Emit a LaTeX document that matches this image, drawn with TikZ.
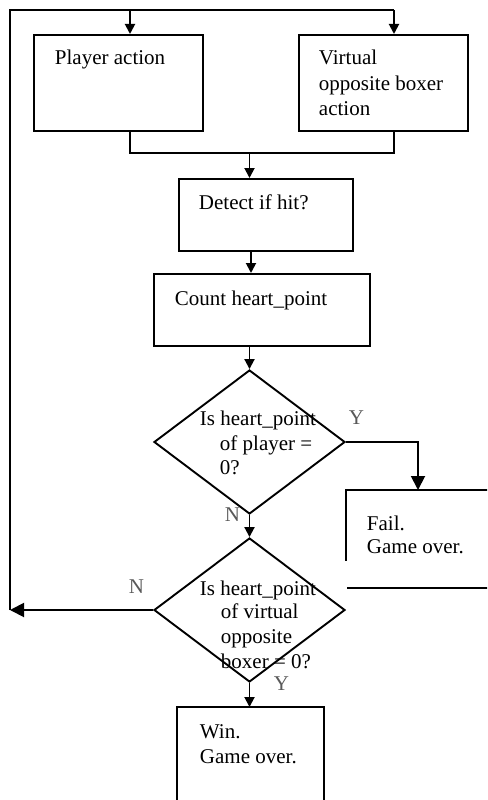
\documentclass[tikz,border=0pt]{standalone}
\usepackage{fontspec}
\setmainfont{Liberation Serif}
\usetikzlibrary{shapes.geometric,arrows.meta}

\begin{document}
\begin{tikzpicture}[x=1pt,y=-1pt,line width=1.9pt,
  box/.style={draw,rectangle,inner sep=0pt,anchor=north west},
  frame/.style={rectangle,inner sep=0pt,anchor=north west},
  decide/.style={draw,diamond,inner sep=0pt,minimum width=191pt,minimum height=144pt},
  txt/.style={inner sep=0pt,anchor=base west,font=\fontsize{21}{24.5}\selectfont},
  lab/.style={txt,text=black!65},
  arr/.style={-{Triangle[width=10pt,length=10pt]}},
  bigarr/.style={-{Triangle[width=14pt,length=14pt]}},
]
\clip (0,0) rectangle (487,800);

% process boxes
\node[box,minimum width=169pt,minimum height=96pt] (pa) at (33,34) {};
\node[box,minimum width=169pt,minimum height=96pt] (va) at (298,34) {};
\node[box,minimum width=174pt,minimum height=72pt] (det) at (178,178) {};
\node[box,minimum width=216pt,minimum height=72pt] (cnt) at (153,273) {};
\node[frame,minimum width=160pt,minimum height=96pt] (fail) at (346,490) {};
\node[frame,minimum width=145pt,minimum height=130pt] (win) at (177,707) {};

% decisions
\node[decide] (d1) at (249.5,442) {};
\node[decide] (d2) at (249.5,610) {};

% open-sided result boxes
\draw (fail.north east) -- (fail.north west) -- ([yshift=-71pt]fail.north west);
\draw ([xshift=1pt]fail.south west) -- (fail.south east);
\draw (win.south west) -- (win.north west) -- (win.north east) -- (win.south east);

% texts
\node[txt] (t1) at (54,65) {Player action};
\node[txt] (t2a) at (318,65) {Virtual};
\node[txt] (t2b) at (318,90) {opposite boxer};
\node[txt] (t2c) at (318,115) {action};
\node[txt] (t3) at (198,209) {Detect if hit?};
\node[txt] (t4) at (174,305) {Count heart\_point};
\node[txt] (t5a) at (199,425) {Is heart\_point};
\node[txt] (t5b) at (219,450) {of player =};
\node[txt] (t5c) at (219,474) {0?};
\node[txt] (t6a) at (366,530) {Fail.};
\node[txt] (t6b) at (366,553) {Game over.};
\node[txt] (t7a) at (199,595) {Is heart\_point};
\node[txt] (t7b) at (220,618) {of virtual};
\node[txt] (t7c) at (220,643) {opposite};
\node[txt] (t7d) at (220,668) {boxer = 0?};
\node[txt] (t8a) at (199,738) {Win.};
\node[txt] (t8b) at (199,763) {Game over.};

% branch labels
\node[lab] (y1) at (348,424) {Y};
\node[lab] (n1) at (224,521) {N};
\node[lab] (n2) at (128,593) {N};
\node[lab] (y2) at (273,690) {Y};

% loop back to the two actions
\coordinate (lb) at (10,610);
\coordinate (tl) at (10,10);
\coordinate (tr) at (394,10);
\coordinate (tp) at (130,10);
\draw[bigarr] (d2.west) -- (lb);
\draw (lb) -- (tl) -- (tr);
\draw[arr] (tp) -- (tp |- pa.north);
\draw[arr] (tr) -- (tr |- va.north);

% merge of both actions
\coordinate (ml) at (130,153);
\coordinate (mr) at (394,153);
\coordinate (mm) at (249.5,153);
\draw (ml |- pa.south) -- (ml) -- (mr) -- (mr |- va.south);
\draw[arr] (mm) -- (mm |- det.north);

% main flow
\coordinate (c1) at (251,250);
\draw[arr] (c1) -- (c1 |- cnt.north);
\draw[arr] (d1.north |- cnt.south) -- (d1.north);
\draw[arr] (d1.south) -- (d2.north);
\coordinate (fy) at (418,442);
\draw[bigarr] (d1.east) -- (fy) -- (fy |- fail.north);
\draw[arr] (d2.south) -- (d2.south |- win.north);
\end{tikzpicture}
\end{document}
